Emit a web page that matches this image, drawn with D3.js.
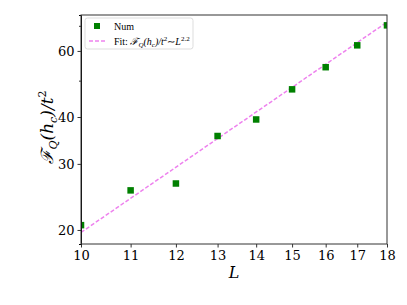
<!DOCTYPE html>
<html>
<head>
<meta charset="utf-8">
<script src="https://cdn.jsdelivr.net/npm/d3@7"></script>
<style>
  body { margin: 0; background: #fff; }
  svg { display: block; }
</style>
</head>
<body>
<script>
// data
var sizes = [10, 11, 12, 13, 14, 15, 16, 17, 18];
var fq = [20.6, 25.5, 26.6, 35.6, 39.4, 47.4, 54.3, 62.1, 70.2];
var fitL = [10, 18];
var fitY = [19.7, 71.6];
var xTicks = [10, 11, 12, 13, 14, 15, 16, 17, 18];
var yTicks = [20, 30, 40, 60];
var yMinor = [50, 70];

var width = 407, height = 305;
var margin = {left: 81, top: 15, right: 20, bottom: 61};

var svg = d3.select("body").append("svg")
	.attr("width", width)
	.attr("height", height);

var x = d3.scaleLog()
	.domain([10, 18])
	.range([margin.left, width - margin.right]);

var y = d3.scaleLog()
	.domain([18.35, 74.8])
	.range([height - margin.bottom, margin.top]);

svg.append("clipPath").attr("id", "plotclip")
	.append("rect")
	.attr("x", margin.left).attr("y", margin.top)
	.attr("width", x.range()[1] - margin.left)
	.attr("height", y.range()[0] - margin.top);

var plot = svg.append("g").attr("clip-path", "url(#plotclip)");

// fit line
var line = d3.line()
	.x(function(d) { return x(d[0]); })
	.y(function(d) { return y(d[1]); });

plot.append("path")
	.datum(fitL.map(function(l, i) { return [l, fitY[i]]; }))
	.attr("d", line)
	.attr("fill", "none")
	.attr("stroke", "#ee82ee")
	.attr("stroke-width", 1.5)
	.attr("stroke-dasharray", "4,2");

// data points
var ms = 6.5;
plot.selectAll("rect.pt")
	.data(sizes)
	.enter().append("rect")
	.attr("class", "pt")
	.attr("x", function(d) { return x(d) - ms / 2; })
	.attr("y", function(d, i) { return y(fq[i]) - ms / 2; })
	.attr("width", ms)
	.attr("height", ms)
	.attr("fill", "#008000");

// axes
var xAxis = d3.axisBottom(x)
	.tickValues(xTicks)
	.tickFormat(d3.format("d"))
	.tickSize(3.5)
	.tickPadding(3);

var yAxis = d3.axisLeft(y)
	.tickValues(yTicks)
	.tickFormat(d3.format("d"))
	.tickSize(3.5)
	.tickPadding(3);

var gx = svg.append("g")
	.attr("transform", "translate(0," + y.range()[0] + ")")
	.call(xAxis);

var gy = svg.append("g")
	.attr("transform", "translate(" + margin.left + ",0)")
	.call(yAxis);

svg.append("g")
	.attr("transform", "translate(" + margin.left + ",0)")
	.call(d3.axisLeft(y).tickValues(yMinor).tickFormat("").tickSize(2));

[gx, gy].forEach(function(g) {
	g.select(".domain").remove();
	g.selectAll("text")
		.attr("font-family", "DejaVu Serif")
		.attr("font-size", 13)
		.attr("fill", "#000");
	g.selectAll("line").attr("stroke", "#333");
});
svg.selectAll(".tick line").attr("stroke", "#333");

// frame
svg.append("rect")
	.attr("x", margin.left).attr("y", margin.top)
	.attr("width", x.range()[1] - margin.left)
	.attr("height", y.range()[0] - margin.top)
	.attr("fill", "none")
	.attr("stroke", "#333")
	.attr("stroke-width", 1);

// axis labels
svg.append("text")
	.attr("x", (x.range()[0] + x.range()[1]) / 2)
	.attr("y", 278)
	.attr("text-anchor", "middle")
	.attr("font-family", "DejaVu Serif")
	.attr("font-style", "italic")
	.attr("font-size", 16)
	.text("L");

var yl = svg.append("text")
	.attr("transform", "translate(53,127) rotate(-90)")
	.attr("text-anchor", "middle")
	.attr("font-family", "DejaVu Serif")
	.attr("font-style", "italic")
	.attr("font-size", 17);
yl.append("tspan").text("ℱ");
yl.append("tspan").attr("font-size", 11).attr("dy", 4).text("Q");
yl.append("tspan").attr("dy", -4).text("(h");
yl.append("tspan").attr("font-size", 11).attr("dy", 4).text("c");
yl.append("tspan").attr("dy", -4).text(")/t");
yl.append("tspan").attr("font-size", 11).attr("dy", -7).attr("font-style", "normal").text("2");

// legend
var lg = svg.append("g").attr("transform", "translate(85,18)");
lg.append("rect")
	.attr("width", 108).attr("height", 31)
	.attr("rx", 2.5)
	.attr("fill", "#fff")
	.attr("fill-opacity", 0.8)
	.attr("stroke", "#ddd");
lg.append("rect")
	.attr("x", 9).attr("y", 5).attr("width", 6).attr("height", 6)
	.attr("fill", "#008000");
lg.append("line")
	.attr("x1", 4).attr("x2", 22).attr("y1", 23).attr("y2", 23)
	.attr("stroke", "#ee82ee").attr("stroke-width", 1.5)
	.attr("stroke-dasharray", "4,2");
lg.append("text")
	.attr("x", 29).attr("y", 12)
	.attr("font-family", "Liberation Serif")
	.attr("font-size", 10)
	.text("Num");
var ft = lg.append("text")
	.attr("x", 29).attr("y", 27)
	.attr("font-family", "Liberation Serif")
	.attr("font-size", 10);
ft.append("tspan").text("Fit: ");
ft.append("tspan").attr("font-style", "italic").text("ℱ");
ft.append("tspan").attr("font-style", "italic").attr("font-size", 7).attr("dy", 2).text("Q");
ft.append("tspan").attr("font-style", "italic").attr("dy", -2).text("(h");
ft.append("tspan").attr("font-style", "italic").attr("font-size", 7).attr("dy", 2).text("c");
ft.append("tspan").attr("font-style", "italic").attr("dy", -2).text(")/t");
ft.append("tspan").attr("font-size", 7).attr("dy", -4).text("2");
ft.append("tspan").attr("dy", 4).text("∼");
ft.append("tspan").attr("font-style", "italic").text("L");
ft.append("tspan").attr("font-size", 7).attr("dy", -4).text("2.2");
</script>
</body>
</html>
